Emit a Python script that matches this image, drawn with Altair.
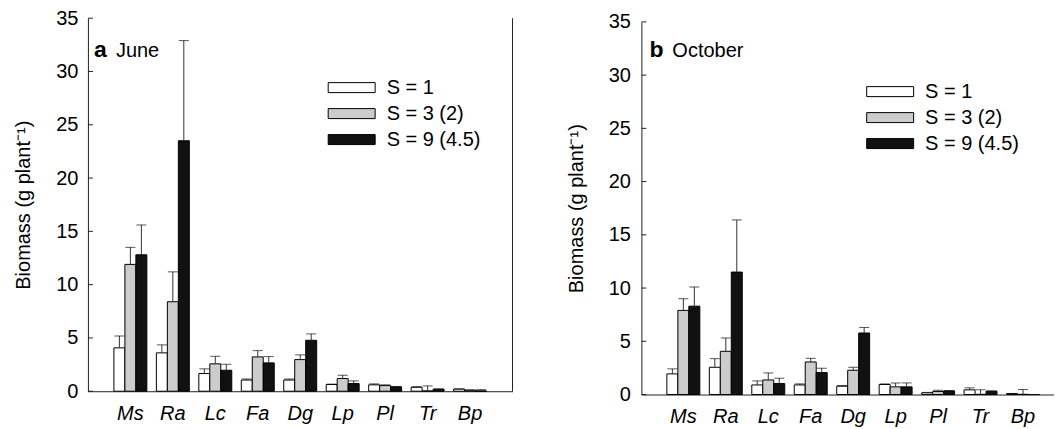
import altair as alt
import pandas as pd

species = ["Ms", "Ra", "Lc", "Fa", "Dg", "Lp", "Pl", "Tr", "Bp"]
series = ["S = 1", "S = 3 (2)", "S = 9 (4.5)"]
colors = ["#ffffff", "#cccccc", "#111111"]
ticks = [0, 5, 10, 15, 20, 25, 30, 35]

# June (panel a): means and upper ends of error bars
june_s1 = [4.07, 3.6, 1.66, 1.05, 1.05, 0.63, 0.6, 0.37, 0.2]
june_s3 = [11.9, 8.4, 2.57, 3.22, 2.97, 1.19, 0.53, 0.03, 0.1]
june_s9 = [12.8, 23.5, 1.97, 2.66, 4.78, 0.72, 0.41, 0.19, 0.03]
june_s1_up = [5.19, 4.35, 2.1, 1.15, 1.15, 0.67, 0.69, 0.43, 0.22]
june_s3_up = [13.5, 11.2, 3.28, 3.81, 3.41, 1.5, 0.6, 0.5, 0.12]
june_s9_up = [15.6, 32.9, 2.53, 3.25, 5.38, 0.97, 0.45, 0.22, 0.15]

# October (panel b)
oct_s1 = [1.94, 2.56, 0.9, 0.9, 0.78, 0.94, 0.16, 0.44, 0.09]
oct_s3 = [7.9, 4.06, 1.37, 3.06, 2.28, 0.72, 0.28, 0.02, 0.02]
oct_s9 = [8.3, 11.5, 1.03, 2.06, 5.78, 0.72, 0.34, 0.31, 0.0]
oct_s1_up = [2.41, 3.37, 1.28, 1.0, 0.85, 1.0, 0.2, 0.63, 0.1]
oct_s3_up = [9.0, 5.31, 2.03, 3.4, 2.56, 1.09, 0.4, 0.45, 0.47]
oct_s9_up = [10.1, 16.4, 1.53, 2.47, 6.3, 1.09, 0.37, 0.34, 0.0]

FONT = "Liberation Sans"
YTITLE = "Biomass (g plant⁻¹)"


def make_df(means, ups):
    rows = []
    for s, m, u in zip(series, means, ups):
        for sp, v, e in zip(species, m, u):
            rows.append({"species": sp, "series": s, "value": v, "upper": e})
    return pd.DataFrame(rows)


def panel(df, letter, month, width, height, yrange, xalign, pad_outer,
          legend_x, legend_y, label_pad, letter_x, month_x, text_y, border):
    xenc = alt.X("species:N", sort=species,
                 scale=alt.Scale(paddingInner=0.224, paddingOuter=pad_outer, align=xalign),
                 axis=alt.Axis(title=None, labelAngle=0, labelFontStyle="italic",
                               labelFontSize=20, labelFont=FONT, labelColor="black",
                               ticks=False, labelPadding=12, domainColor="#222"))
    xoff = alt.XOffset("series:N", sort=series,
                       scale=alt.Scale(paddingInner=0, paddingOuter=0))
    sc = alt.Scale(domain=[0, 35], nice=False, range=yrange)
    yaxis = alt.Axis(values=ticks, tickSize=0, grid=False, title=YTITLE,
                     labelFontSize=20, labelFont=FONT, labelColor="black",
                     labelPadding=label_pad, titleFontSize=20, titleFont=FONT,
                     titleFontWeight="normal", titleColor="black", titlePadding=22,
                     domainColor="#222")
    legend = alt.Legend(title=None, orient="none", legendX=legend_x, legendY=legend_y,
                        symbolType="M-2.35,-0.5L2.35,-0.5L2.35,0.5L-2.35,0.5Z",
                        symbolSize=400, symbolStrokeColor="black", symbolStrokeWidth=1,
                        symbolOpacity=1, labelFontSize=20, labelFont=FONT,
                        labelColor="black", labelOffset=24.5, rowPadding=5, padding=0)
    bars = alt.Chart(df).mark_bar(stroke="black", strokeWidth=1).encode(
        x=xenc, xOffset=xoff,
        y=alt.Y("value:Q", scale=sc, axis=yaxis),
        fill=alt.Fill("series:N", sort=series,
                      scale=alt.Scale(domain=series, range=colors), legend=legend),
    )
    errs = alt.Chart(df).mark_rule(color="#333", strokeWidth=1).encode(
        x=xenc, xOffset=xoff,
        y=alt.Y("value:Q", scale=sc, axis=yaxis), y2="upper:Q",
    )
    caps = alt.Chart(df).mark_tick(color="#111", thickness=1, size=10).encode(
        x=xenc, xOffset=xoff,
        y=alt.Y("upper:Q", scale=sc, axis=yaxis),
    )
    tdf = pd.DataFrame({"value": ticks})
    yticks = alt.Chart(tdf).mark_rule(color="#222").encode(
        y=alt.Y("value:Q", scale=sc, axis=yaxis),
        x=alt.value(0), x2=alt.value(5),
    )
    ldf = pd.DataFrame({"t": [letter]})
    mdf = pd.DataFrame({"t": [month]})
    t1 = alt.Chart(ldf).mark_text(align="left", baseline="alphabetic", fontSize=23,
                                  fontWeight="bold", font=FONT, color="black").encode(
        text="t:N", x=alt.value(letter_x), y=alt.value(text_y))
    t2 = alt.Chart(mdf).mark_text(align="left", baseline="alphabetic", fontSize=20,
                                  font=FONT, color="black").encode(
        text="t:N", x=alt.value(month_x), y=alt.value(text_y))
    layers = [bars, errs, caps, yticks, t1, t2]
    if border:
        rb = alt.Chart(tdf.head(1)).mark_rule(color="#222").encode(
            x=alt.value(width), y=alt.value(0), y2=alt.value(height))
        layers.append(rb)
    return alt.layer(*layers).properties(width=width, height=height)


dfa = make_df([june_s1, june_s3, june_s9], [june_s1_up, june_s3_up, june_s9_up])
dfb = make_df([oct_s1, oct_s3, oct_s9], [oct_s1_up, oct_s3_up, oct_s9_up])

pa = panel(dfa, "a", "June", 425, 373.4, [373.4, 0], 0.5, 0.612,
           253.5, 59, 10, 6, 28, 39, True)
pb = panel(dfb, "b", "October", 413, 376.7, [376.7, 3.7], 0.637, 0.471,
           238.5, 63, 11, 8, 31, 39, False)

chart = alt.hconcat(pa, pb, spacing=52).resolve_scale(
    fill="independent", y="independent", x="independent"
).resolve_legend(fill="independent").configure_view(stroke=None).properties(
    padding={"left": 5, "top": 0, "right": 0, "bottom": 0}
)

chart.save("out.html", embed_options={"renderer": "svg", "actions": False})
